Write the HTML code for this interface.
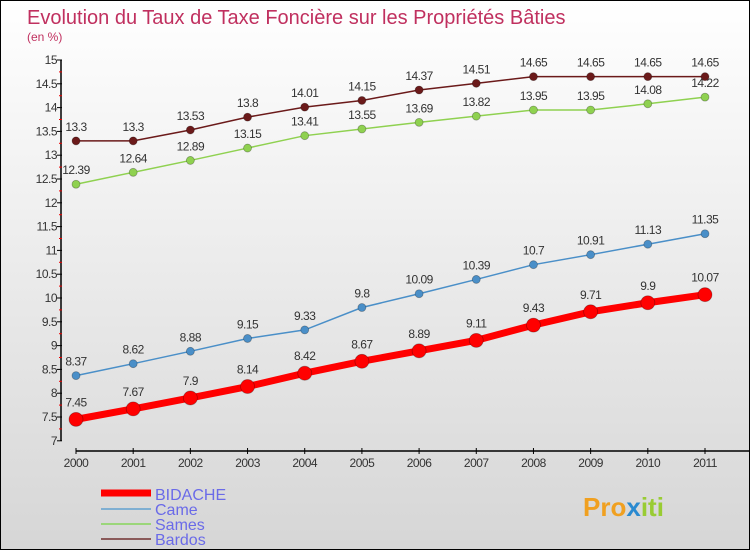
<!DOCTYPE html>
<html><head><meta charset="utf-8"><style>
body{margin:0}
#wrap{width:750px;height:550px;position:relative;box-sizing:border-box;border:1px solid #000;background:linear-gradient(#fff,#d6d6d6);overflow:hidden;font-family:"Liberation Sans",sans-serif}
</style></head><body>
<div id="wrap">
<svg id="svg" width="748" height="548" style="position:absolute;left:0;top:0">
<text x="26" y="23" font-size="20" fill="#c0305f">Evolution du Taux de Taxe Foncière sur les Propriétés Bâties</text>
<text x="26" y="40" font-size="12" fill="#c0305f">(en %)</text>
<g id="axes"></g><g id="series"></g>
<g>
<line x1="100" y1="492" x2="150" y2="492" stroke="#f00" stroke-width="7"/>
<text x="154" y="499" font-size="16" fill="#6a6ae8">BIDACHE</text>
<line x1="100" y1="508" x2="150" y2="508" stroke="#7fafd2" stroke-width="2"/>
<text x="154" y="514" font-size="16" fill="#6a6ae8">Came</text>
<line x1="100" y1="523" x2="150" y2="523" stroke="#9bd67a" stroke-width="2"/>
<text x="154" y="529" font-size="16" fill="#6a6ae8">Sames</text>
<line x1="100" y1="538" x2="150" y2="538" stroke="#8a5a5a" stroke-width="2"/>
<text x="154" y="544" font-size="16" fill="#6a6ae8">Bardos</text>
</g>
<text x="582" y="515" font-size="26" font-weight="bold" fill="#f0a020">Pro<tspan fill="#2a8ad0">x</tspan><tspan fill="#9c3">iti</tspan></text>
</svg>
</div>
<script>
const years=[2000,2001,2002,2003,2004,2005,2006,2007,2008,2009,2010,2011];
const bidache=[7.45,7.67,7.9,8.14,8.42,8.67,8.89,9.11,9.43,9.71,9.9,10.07];
const came=[8.37,8.62,8.88,9.15,9.33,9.8,10.09,10.39,10.7,10.91,11.13,11.35];
const sames=[12.39,12.64,12.89,13.15,13.41,13.55,13.69,13.82,13.95,13.95,14.08,14.22];
const bardos=[13.3,13.3,13.53,13.8,14.01,14.15,14.37,14.51,14.65,14.65,14.65,14.65];
const yTicks=[7,7.5,8,8.5,9,9.5,10,10.5,11,11.5,12,12.5,13,13.5,14,14.5,15];
const NS="http://www.w3.org/2000/svg";
const X=i=>75+i*(629/11);
const Y=v=>59+(15-v)*47.6;
function mk(t,a,p){const e=document.createElementNS(NS,t);for(const k in a)e.setAttribute(k,a[k]);p.appendChild(e);return e;}
const ax=document.getElementById('axes'),sg=document.getElementById('series');
let yl=mk('line',{x1:60,y1:Y(15),x2:60,y2:Y(7),stroke:'#000','stroke-width':1.5},ax);


yTicks.forEach((v,k)=>{
 let t=mk('line',{x1:56,y1:Y(v),x2:61,y2:Y(v),stroke:'#000'},ax);
 
 
 if(k>0){
 let m=mk('line',{x1:58,y1:Y(v-0.25),x2:61,y2:Y(v-0.25),stroke:'#e00'},ax);
 
 
 }
 let l=mk('text',{x:56,y:Y(v)+4,'font-size':12,fill:'#333','text-anchor':'end','letter-spacing':'-0.5'},ax);l.textContent=String(v);
 
 
});
let xl=mk('line',{x1:75,y1:450,x2:748,y2:450,stroke:'#000','stroke-width':1.5},ax);


years.forEach((y,i)=>{
 let t=mk('line',{x1:X(i),y1:447,x2:X(i),y2:453,stroke:'#000'},ax);
 
 
 let l=mk('text',{x:X(i),y:466,'font-size':12,fill:'#333','text-anchor':'middle','letter-spacing':'-0.5'},ax);l.textContent=y;
 
 
});
function series(name,vals,color,w,r){
 const g=mk('g',{},sg);
 
 
 const pl=mk('polyline',{points:vals.map((v,i)=>X(i)+','+Y(v)).join(' '),fill:'none',stroke:color,'stroke-width':w},g);
 
 
 vals.forEach((v,i)=>{
  const c=mk('circle',{cx:X(i),cy:Y(v),r:r,fill:color,stroke:'rgba(0,0,0,0.3)','stroke-width':0.8},g);
  
  
  const t=mk('text',{x:X(i),y:Y(v)-(r+6),'font-size':12,fill:'#333','text-anchor':'middle','letter-spacing':'-0.5'},g);
  t.textContent=String(v);
  
  
 });
}
series('bardos',bardos,'#6b1a1a',1.5,4);
series('sames',sames,'#8fd150',1.5,4);
series('came',came,'#4a8fc8',1.5,4);
series('bidache',bidache,'#f00',7,7);
</script>
</body></html>
